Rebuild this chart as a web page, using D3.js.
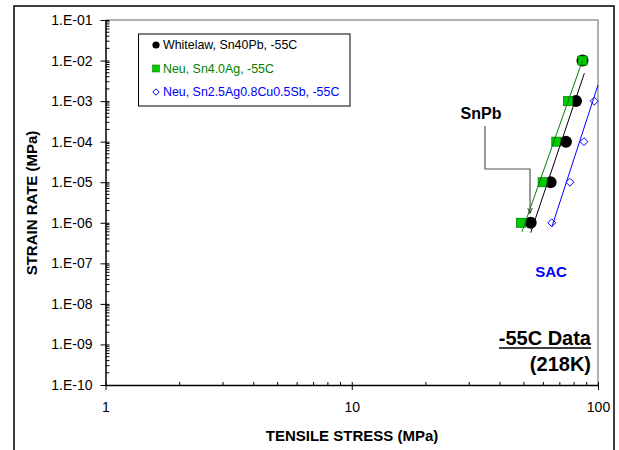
<!DOCTYPE html>
<html><head><meta charset="utf-8">
<script src="https://cdn.jsdelivr.net/npm/d3@7"></script>
<style>
body{margin:0;background:#fff;}
svg{display:block;font-family:"Liberation Sans",Arial,sans-serif;}
</style></head>
<body><svg id="c" width="619" height="450"></svg>
<script>
// ---- data ----
const yTickValues = [1e-1,1e-2,1e-3,1e-4,1e-5,1e-6,1e-7,1e-8,1e-9,1e-10];
const yTickLabels = ["1.E-01","1.E-02","1.E-03","1.E-04","1.E-05","1.E-06","1.E-07","1.E-08","1.E-09","1.E-10"];
const xTickValues = [1,10,100];
const xTickLabels = ["1","10","100"];
const seriesNames = ["Whitelaw, Sn40Pb, -55C","Neu, Sn4.0Ag, -55C","Neu, Sn2.5Ag0.8Cu0.5Sb, -55C"];
const whitelawStress = [86.5,81.4,74.1,64.2,53.3];
const whitelawRate   = [1e-2,1e-3,1e-4,1e-5,1e-6];
const neuAgStress = [86.5,75.5,67.7,59.6,48.7];
const neuAgRate   = [1e-2,1e-3,1e-4,1e-5,1e-6];
const neuSacStress = [96.6,87.7,76.9,64.9];
const neuSacRate   = [1e-3,1e-4,1e-5,1e-6];
// trend line end points [stress, rate]
const whitelawFit = [[53.3,5.7e-7],[88.0,4.85e-3]];
const neuAgFit    = [[49.1,6.0e-7],[86.5,1.0e-2]];
const neuSacFit   = [[65.0,8.0e-7],[100,2.5e-3]];

const svg = d3.select("#c");
const L=105.5, R=598, T=20, B=385;
const x = d3.scaleLog().domain([1,100]).range([L,R]);
const y = d3.scaleLog().domain([1e-10,1e-1]).range([B,T]);

// outer frame
svg.append("rect").attr("x",14).attr("y",6).attr("width",600).attr("height",470)
  .attr("fill","none").attr("stroke","#000").attr("stroke-width",1.5);

// plot area gray border (top/right)
svg.append("path").attr("d",`M${L},${T}H${R}V${B}`).attr("fill","none")
  .attr("stroke","#999").attr("stroke-width",1.5);

// minor ticks
const yMinor=[], xMinor=[];
for(let e=-10;e<-1;e++) for(let m=2;m<=9;m++) yMinor.push(m*Math.pow(10,e));
for(let e=0;e<2;e++) for(let m=2;m<=9;m++) xMinor.push(m*Math.pow(10,e));
svg.append("g").selectAll("line").data(yMinor).join("line")
  .attr("x1",L).attr("x2",L+4).attr("y1",d=>y(d)).attr("y2",d=>y(d))
  .attr("stroke","#000").attr("stroke-width",1);
svg.append("g").selectAll("line").data(xMinor).join("line")
  .attr("x1",d=>x(d)).attr("x2",d=>x(d)).attr("y1",B).attr("y2",B-3)
  .attr("stroke","#000").attr("stroke-width",1);

// y axis
const yAxis = d3.axisLeft(y).tickValues(yTickValues)
  .tickFormat((d,i)=>yTickLabels[i]).tickSizeInner(5).tickSizeOuter(0).tickPadding(8);
const gy = svg.append("g").attr("transform",`translate(${L},0)`).call(yAxis);
gy.selectAll("line").clone().attr("x2",4);
gy.selectAll("text").attr("font-size","14px").attr("fill","#000")
  .attr("font-family","Liberation Sans, Arial, sans-serif");
gy.select(".domain").attr("stroke-width",1.5);

// x axis
const xAxis = d3.axisBottom(x).tickValues(xTickValues)
  .tickFormat((d,i)=>xTickLabels[i]).tickSizeInner(5).tickSizeOuter(0).tickPadding(12);
const gx = svg.append("g").attr("transform",`translate(0,${B})`).call(xAxis);
gx.selectAll("line").clone().attr("y2",-3);
gx.selectAll("text").attr("font-size","14px").attr("fill","#000")
  .attr("font-family","Liberation Sans, Arial, sans-serif");
gx.select(".domain").attr("stroke-width",1.5);

// axis titles
svg.append("text").attr("x",352).attr("y",441).attr("text-anchor","middle")
  .attr("font-weight","bold").attr("font-size","15px").text("TENSILE STRESS (MPa)");
svg.append("text").attr("transform","translate(37,203) rotate(-90)").attr("text-anchor","middle")
  .attr("font-weight","bold").attr("font-size","15px").text("STRAIN RATE (MPa)");

// markers
const pts = (s,r)=>s.map((v,i)=>[v,r[i]]);
svg.append("g").selectAll("circle").data(pts(whitelawStress,whitelawRate)).join("circle")
  .attr("cx",d=>x(d[0])).attr("cy",d=>y(d[1])).attr("r",6).attr("fill","#000");
svg.append("g").selectAll("rect").data(pts(neuAgStress,neuAgRate)).join("rect")
  .attr("x",d=>x(d[0])-4.5).attr("y",d=>y(d[1])-4.5).attr("width",9).attr("height",9)
  .attr("fill","#00cc00").attr("stroke","#008000").attr("stroke-width",0.8);
const diamond = d3.symbol().type(d3.symbolDiamond2).size(40);
svg.append("g").selectAll("path").data(pts(neuSacStress,neuSacRate)).join("path")
  .attr("transform",d=>`translate(${x(d[0])},${y(d[1])})`).attr("d",diamond)
  .attr("fill","#fff").attr("stroke","#0000ff").attr("stroke-width",1);

// trend lines
const line = d3.line().x(d=>x(d[0])).y(d=>y(d[1]));
svg.append("path").datum(whitelawFit).attr("d",line).attr("stroke","#000").attr("stroke-width",1).attr("fill","none");
svg.append("path").datum(neuAgFit).attr("d",line).attr("stroke","#008000").attr("stroke-width",1).attr("fill","none");
svg.append("path").datum(neuSacFit).attr("d",line).attr("stroke","#0000ff").attr("stroke-width",1).attr("fill","none");

// legend
const lg = svg.append("g");
lg.append("rect").attr("x",138.5).attr("y",34).attr("width",211.5).attr("height",72)
  .attr("fill","#fff").attr("stroke","#000").attr("stroke-width",1);
const legColors = ["#000","#008000","#0000ff"];
const legY = [45,68.5,92];
lg.append("circle").attr("cx",156).attr("cy",legY[0]).attr("r",3.6).attr("fill","#000");
lg.append("rect").attr("x",152.5).attr("y",legY[1]-3.5).attr("width",7).attr("height",7)
  .attr("fill","#00cc00").attr("stroke","#008000").attr("stroke-width",0.6);
lg.append("path").attr("transform",`translate(156,${legY[2]})`)
  .attr("d",d3.symbol().type(d3.symbolDiamond2).size(26)).attr("fill","#fff").attr("stroke","#0000ff");
lg.selectAll("text").data(seriesNames).join("text")
  .attr("x",163).attr("y",(d,i)=>legY[i]).attr("dy","0.35em")
  .attr("font-size","12.4px").attr("fill",(d,i)=>legColors[i]).text(d=>d);

// annotations
svg.append("defs").append("marker").attr("id","arr").attr("viewBox","0 0 10 10")
  .attr("refX",9).attr("refY",5).attr("markerWidth",5).attr("markerHeight",6).attr("orient","auto")
  .append("path").attr("d","M0,1L10,5L0,9").attr("fill","none").attr("stroke","#333").attr("stroke-width",1.5);
svg.append("path").attr("d","M485,126V169H530V213").attr("fill","none")
  .attr("stroke","#555").attr("stroke-width",1.2).attr("marker-end","url(#arr)");
svg.append("text").attr("x",481).attr("y",113).attr("dy","0.35em").attr("text-anchor","middle")
  .attr("font-weight","bold").attr("font-size","16px").text("SnPb");
svg.append("text").attr("x",551).attr("y",272).attr("dy","0.35em").attr("text-anchor","middle")
  .attr("font-weight","bold").attr("font-size","15px").attr("fill","#0000ff").text("SAC");
const t1 = svg.append("text").attr("x",591).attr("y",345).attr("text-anchor","end")
  .attr("font-weight","bold").attr("font-size","20px").text("-55C Data");
svg.append("line").attr("x1",499).attr("x2",591).attr("y1",348).attr("y2",348)
  .attr("stroke","#000").attr("stroke-width",1.6);
svg.append("text").attr("x",591).attr("y",371).attr("text-anchor","end")
  .attr("font-weight","bold").attr("font-size","20px").text("(218K)");
</script></body></html>
